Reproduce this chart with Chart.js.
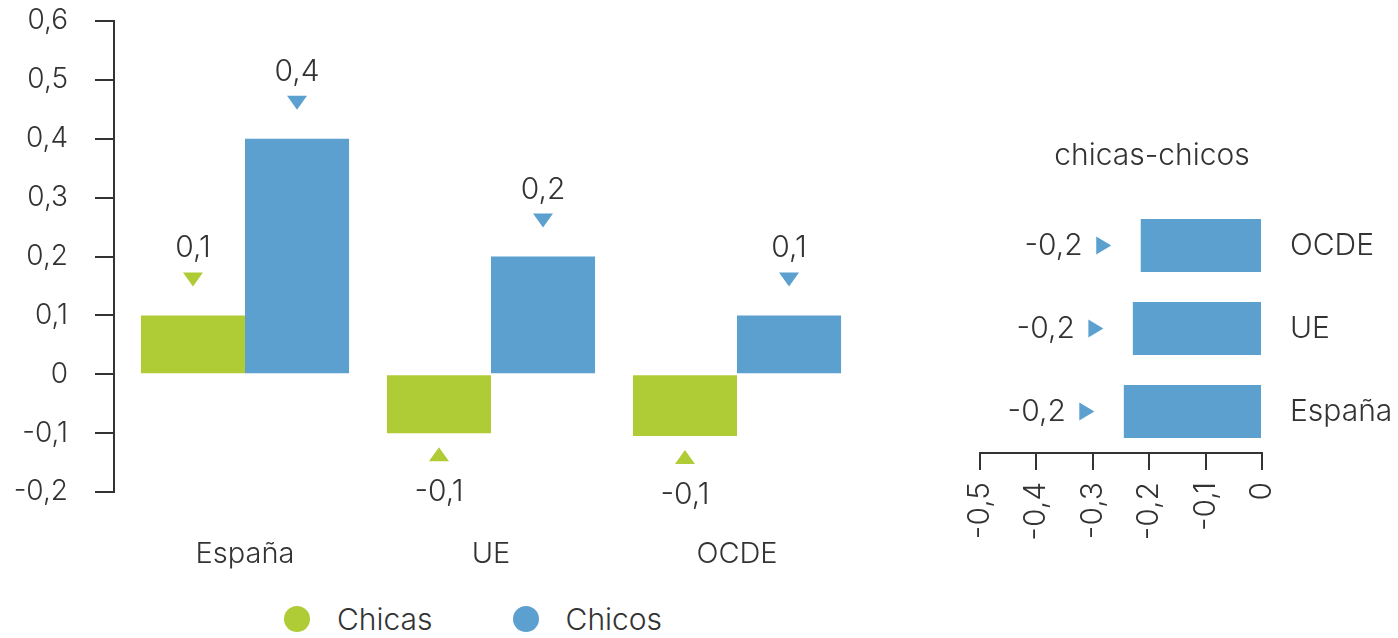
<!DOCTYPE html>
<html><head><meta charset="utf-8">
<script src="https://cdn.jsdelivr.net/npm/chart.js@4"></script>
<style>
html,body{margin:0;padding:0;background:#fff;}
body{width:1398px;height:638px;position:relative;overflow:hidden;font-family:Inter,sans-serif;font-weight:300;color:#333;}
#left{position:absolute;left:0;top:0;width:870px;height:590px;}
#right{position:absolute;left:906px;top:110px;width:492px;height:450px;}
#legend{position:absolute;left:284px;top:604px;height:30px;display:flex;align-items:center;font-size:30px;line-height:30px;}
.item{display:flex;align-items:center;margin-right:80px;}
.dot{width:26px;height:26px;border-radius:50%;margin-right:27px;}
</style></head><body>
<div id="left"><canvas id="c1"></canvas></div>
<div id="right"><canvas id="c2"></canvas></div>
<div id="legend"></div>
<script>
// ---- data ----
const categories = ['España', 'UE', 'OCDE'];
const seriesNames = ['Chicas', 'Chicos'];
const chicas = [0.1, -0.1, -0.105];
const chicos = [0.4, 0.2, 0.1];
const diffTitle = 'chicas-chicos';
const diffCategories = ['OCDE', 'UE', 'España'];
const diffValues = [-0.215, -0.229, -0.245];
const colors = ['#AFCB36', '#5BA0CF'];

const FONT = 'Inter';
const TEXT = '#333';
function fmt(v){ const r = Math.round(v*10)/10; if (r === 0) return '0'; return r.toFixed(1).replace('.', ','); }

// shift bar scale a little right of the y axis line (gap in reference)
const shiftPlugin = { id:'shift', afterLayout(chart){ const s = chart.scales.x; s.left += 8; s.width -= 8; s.configure(); } };

const markerPlugin = {
  id:'markers',
  afterDatasetsDraw(chart){
    const ctx = chart.ctx;
    chart.data.datasets.forEach((ds, i) => {
      chart.getDatasetMeta(i).data.forEach((el, j) => {
        const v = ds.data[j]; const x = el.x;
        ctx.save();
        ctx.fillStyle = ds.backgroundColor;
        ctx.beginPath();
        if (v >= 0) { const cy = el.y - 36; ctx.moveTo(x-10, cy-7); ctx.lineTo(x+10, cy-7); ctx.lineTo(x, cy+7); }
        else { const cy = el.y + 21; ctx.moveTo(x-10, cy+7); ctx.lineTo(x+10, cy+7); ctx.lineTo(x, cy-7); }
        ctx.closePath(); ctx.fill();
        ctx.fillStyle = TEXT; ctx.font = '300 30px ' + FONT;
        ctx.textAlign = 'center'; ctx.textBaseline = 'middle';
        ctx.fillText(fmt(v), x, v >= 0 ? el.y - 67 : el.y + 59);
        ctx.restore();
      });
    });
  }
};

const diffMarkerPlugin = {
  id:'diffmarkers',
  afterDatasetsDraw(chart){
    const ctx = chart.ctx; const ds = chart.data.datasets[0];
    chart.getDatasetMeta(0).data.forEach((el, j) => {
      const v = ds.data[j]; const x = el.x - 37, y = el.y;
      ctx.save();
      ctx.fillStyle = ds.backgroundColor;
      ctx.beginPath(); ctx.moveTo(x-7.5, y-9); ctx.lineTo(x+7.5, y); ctx.lineTo(x-7.5, y+9); ctx.closePath(); ctx.fill();
      ctx.fillStyle = TEXT; ctx.font = '300 30px ' + FONT;
      ctx.textAlign = 'right'; ctx.textBaseline = 'middle';
      ctx.fillText(fmt(v), el.x - 58, y);
      ctx.restore();
    });
  }
};

new Chart(document.getElementById('c1'), {
  type:'bar',
  data:{ labels: categories, datasets:[
    { label: seriesNames[0], data: chicas, backgroundColor: colors[0] },
    { label: seriesNames[1], data: chicos, backgroundColor: colors[1] }
  ]},
  options:{
    responsive:true, maintainAspectRatio:false, animation:false,
    layout:{ padding:{ top:0, right:10, left:0, bottom:0 } },
    datasets:{ bar:{ barPercentage:1, categoryPercentage:0.846, borderWidth:0 } },
    plugins:{ legend:{display:false}, tooltip:{enabled:false} },
    scales:{
      x:{ grid:{display:false, drawTicks:false}, border:{display:false},
          ticks:{ font:{family:FONT, size:29, weight:300}, color:TEXT, padding:45, maxRotation:0, autoSkip:false },
          afterFit(s){ s.height = 98; } },
      y:{ min:-0.2, max:0.6,
          ticks:{ stepSize:0.1, callback:(v)=>fmt(v), font:{family:FONT, size:28, weight:300}, color:TEXT, padding:27 },
          grid:{ drawOnChartArea:false, drawTicks:true, tickLength:19, color:'#333', lineWidth:2 },
          border:{ display:true, color:'#333', width:2 },
          afterFit(s){ s.width = 114; s.paddingTop = 21; } }
    }
  },
  plugins:[shiftPlugin, markerPlugin]
});

new Chart(document.getElementById('c2'), {
  type:'bar',
  data:{ labels: diffCategories, datasets:[ { label: diffTitle, data: diffValues, backgroundColor: colors[1] } ] },
  options:{
    indexAxis:'y', responsive:true, maintainAspectRatio:false, animation:false,
    layout:{ padding:0 },
    datasets:{ bar:{ barPercentage:0.64, categoryPercentage:1, borderWidth:0 } },
    plugins:{ legend:{display:false}, tooltip:{enabled:false},
      title:{ display:true, text: diffTitle, font:{family:FONT, size:30, weight:300}, color:TEXT, padding:{top:28, bottom:30} } },
    scales:{
      x:{ min:-0.5, max:0,
          ticks:{ stepSize:0.1, callback:(v)=>fmt(v), maxRotation:90, minRotation:90, autoSkip:false,
                  font:{family:FONT, size:30, weight:300}, color:TEXT, padding:12 },
          grid:{ drawOnChartArea:false, drawTicks:true, tickLength:17, color:'#333', lineWidth:2 },
          border:{ display:true, color:'#333', width:2 },
          afterFit(s){ s.height = 107; s.paddingLeft = 74; } },
      y:{ position:'right', grid:{display:false, drawTicks:false}, border:{display:false},
          ticks:{ font:{family:FONT, size:30, weight:300}, color:TEXT, padding:28 },
          afterFit(s){ s.width = 136; } }
    }
  },
  plugins:[diffMarkerPlugin]
});

// HTML legend
const lg = document.getElementById('legend');
seriesNames.forEach((n, i) => {
  const it = document.createElement('div'); it.className = 'item';
  const d = document.createElement('span'); d.className = 'dot'; d.style.background = colors[i];
  const t = document.createElement('span'); t.textContent = n;
  it.appendChild(d); it.appendChild(t); lg.appendChild(it);
});
</script>
</body></html>
